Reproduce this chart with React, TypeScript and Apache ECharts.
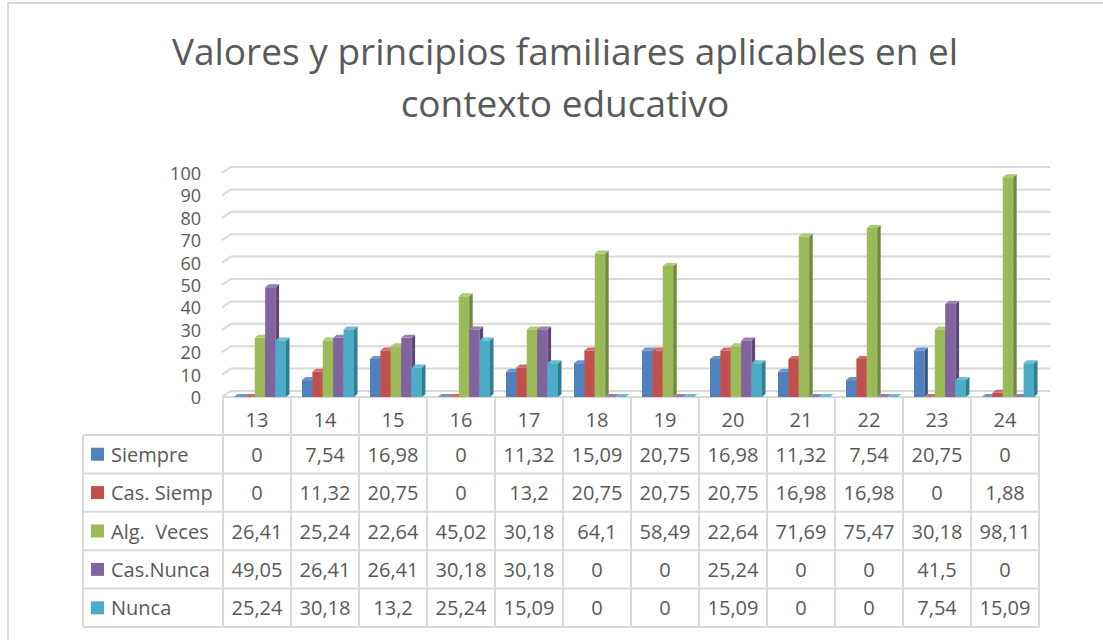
import React, { useEffect, useRef } from "react";
import * as echarts from "echarts";

const categories = ["13", "14", "15", "16", "17", "18", "19", "20", "21", "22", "23", "24"];
const seriesNames = ["Siempre", "Cas. Siemp", "Alg.  Veces", "Cas.Nunca", "Nunca"];
const siempre = [0, 7.54, 16.98, 0, 11.32, 15.09, 20.75, 16.98, 11.32, 7.54, 20.75, 0];
const casSiemp = [0, 11.32, 20.75, 0, 13.2, 20.75, 20.75, 20.75, 16.98, 16.98, 0, 1.88];
const algVeces = [26.41, 25.24, 22.64, 45.02, 30.18, 64.1, 58.49, 22.64, 71.69, 75.47, 30.18, 98.11];
const casNunca = [49.05, 26.41, 26.41, 30.18, 30.18, 0, 0, 25.24, 0, 0, 41.5, 0];
const nunca = [25.24, 30.18, 13.2, 25.24, 15.09, 0, 0, 15.09, 0, 0, 7.54, 15.09];
const yTicks = [0, 10, 20, 30, 40, 50, 60, 70, 80, 90, 100];

const seriesValues = [siempre, casSiemp, algVeces, casNunca, nunca];
const faceColors = [
  { front: "#4F81BD", side: "#385D8A", top: "#6A96CB" },
  { front: "#C0504D", side: "#8C3A38", top: "#CD6E6B" },
  { front: "#9BBB59", side: "#71893F", top: "#AEC979" },
  { front: "#8064A2", side: "#5C4876", top: "#977FB4" },
  { front: "#4BACC6", side: "#327E92", top: "#6BBDD2" },
];

const FONT = "'Open Sans', sans-serif";
const TXT = "#595959";
const LINE = "#D9D9D9";

// layout
const W = 1103;
const H = 640;
const GRID_L = 223;
const GRID_R = 1039;
const Y0 = 397;
const Y100 = 173;
const TABLE_L = 83;
const ROW_TOP = 435;
const ROW_H = 38.4;

function fmt(v: number) {
  return String(v).replace(".", ",");
}

export default function App() {
  const ref = useRef<HTMLDivElement>(null);
  useEffect(() => {
    if (!ref.current) return;
    const chart = echarts.init(ref.current, null, { renderer: "svg" });
    const colW = (GRID_R - GRID_L) / categories.length;

    const barSeries = seriesValues.map((vals, s) => ({
      type: "custom",
      name: seriesNames[s],
      data: vals.map((v, i) => [i, v]),
      encode: { x: 0, y: 1 },
      z: 3,
      renderItem: (params: any, api: any) => {
        const idx = api.value(0);
        const v = api.value(1);
        const top = api.coord([idx, v]);
        const base = api.coord([idx, 0]);
        const band = api.size([1, 0])[0];
        const bw = band * 0.153;
        const x0 = top[0] + 3 - 2.5 * bw + s * bw;
        const x1 = x0 + bw;
        const yT = top[1];
        const yB = base[1];
        const dx = 3.5;
        const dy = -3;
        const c = faceColors[s];
        return {
          type: "group",
          children: [
            {
              type: "rect",
              shape: { x: x0, y: yT, width: bw, height: yB - yT },
              style: { fill: c.front },
            },
            {
              type: "polygon",
              shape: { points: [[x1, yT], [x1 + dx, yT + dy], [x1 + dx, yB + dy], [x1, yB]] },
              style: { fill: c.side },
            },
            {
              type: "polygon",
              shape: { points: [[x0, yT], [x0 + dx, yT + dy], [x1 + dx, yT + dy], [x1, yT]] },
              style: { fill: c.top },
            },
          ],
        };
      },
    }));

    const gridSeries = {
      type: "custom",
      silent: true,
      data: yTicks.map((t) => [0, t]),
      encode: { x: 0, y: 1 },
      z: 1,
      renderItem: (params: any, api: any) => {
        const y = api.coord([0, api.value(1)])[1];
        const cs = params.coordSys;
        return {
          type: "polyline",
          shape: { points: [[cs.x - 1, y], [cs.x + 8, y - 6], [cs.x + cs.width + 11, y - 6]] },
          style: { stroke: LINE, lineWidth: 2, fill: "none" },
        };
      },
    };

    const graphics: any[] = [];
    // outer frame
    graphics.push({
      type: "rect",
      shape: { x: 8, y: 3, width: W + 20, height: H + 20 },
      style: { fill: "none", stroke: LINE, lineWidth: 2 },
      silent: true,
    });
    // table horizontal lines
    for (let r = 0; r <= seriesNames.length; r++) {
      const y = ROW_TOP + r * ROW_H;
      graphics.push({
        type: "line",
        shape: { x1: TABLE_L, y1: y, x2: GRID_R + 1, y2: y },
        style: { stroke: LINE, lineWidth: 2 },
      });
    }
    // table vertical lines
    graphics.push({
      type: "line",
      shape: { x1: TABLE_L, y1: ROW_TOP, x2: TABLE_L, y2: ROW_TOP + seriesNames.length * ROW_H },
      style: { stroke: LINE, lineWidth: 2 },
    });
    for (let c = 0; c <= categories.length; c++) {
      const x = GRID_L + c * colW;
      graphics.push({
        type: "line",
        shape: { x1: x, y1: Y0, x2: x, y2: ROW_TOP + seriesNames.length * ROW_H },
        style: { stroke: LINE, lineWidth: 2 },
      });
    }
    // table rows
    seriesNames.forEach((name, r) => {
      const cy = ROW_TOP + r * ROW_H + ROW_H / 2;
      graphics.push({
        type: "rect",
        shape: { x: 91, y: cy - 6.5, width: 13, height: 13 },
        style: { fill: faceColors[r].front },
      });
      graphics.push({
        type: "text",
        x: 111,
        y: cy,
        style: {
          text: name,
          font: `20px ${FONT}`,
          fill: TXT,
          textAlign: "left",
          textVerticalAlign: "middle",
        },
      });
      seriesValues[r].forEach((v, i) => {
        graphics.push({
          type: "text",
          x: GRID_L + (i + 0.5) * colW,
          y: cy,
          style: {
            text: fmt(v),
            font: `20px ${FONT}`,
            fill: TXT,
            textAlign: "center",
            textVerticalAlign: "middle",
          },
        });
      });
    });

    chart.setOption({
      animation: false,
      title: {
        text: "Valores y principios familiares aplicables en el\ncontexto educativo",
        left: 560,
        top: 19,
        textAlign: "center",
        textStyle: {
          fontFamily: FONT,
          fontSize: 37,
          fontWeight: "normal",
          color: TXT,
          lineHeight: 52,
        },
      },
      grid: {
        left: GRID_L,
        right: W - GRID_R,
        top: Y100,
        bottom: H - Y0,
      },
      xAxis: {
        type: "category",
        data: categories,
        axisLine: { show: true, lineStyle: { color: LINE, width: 2 } },
        axisTick: { show: false },
        axisLabel: { color: TXT, fontFamily: FONT, fontSize: 20, margin: 12 },
        splitLine: { show: false },
      },
      yAxis: {
        type: "value",
        min: 0,
        max: 100,
        interval: 10,
        axisLine: { show: false },
        axisTick: { show: false },
        splitLine: { show: false },
        axisLabel: { color: TXT, fontFamily: FONT, fontSize: 18, lineHeight: 18, margin: 22 },
      },
      series: [gridSeries, ...barSeries],
      graphic: graphics,
    });
    return () => chart.dispose();
  }, []);
  return (
    <div
      ref={ref}
      style={{ position: "fixed", left: 0, top: 0, width: W, height: H, background: "#fff" }}
    />
  );
}
